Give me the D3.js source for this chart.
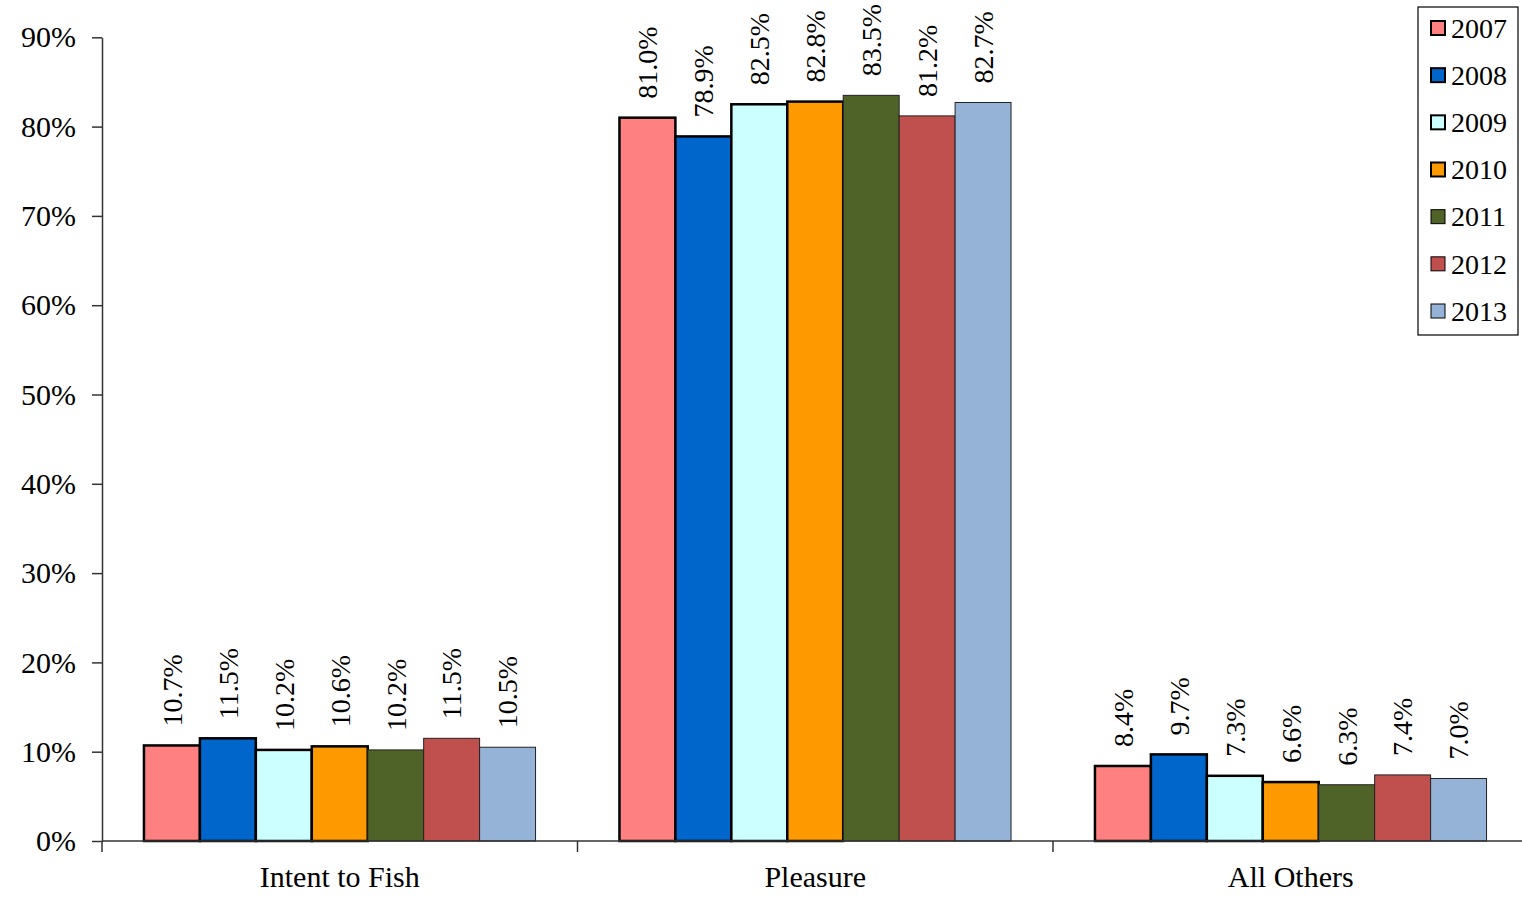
<!DOCTYPE html>
<html>
<head>
<meta charset="utf-8">
<script src="https://cdn.jsdelivr.net/npm/d3@7"></script>
<style>
  body { margin: 0; background: #fff; }
  text { font-family: "Liberation Serif", "Times New Roman", serif; fill: #000; }
</style>
</head>
<body>
<svg id="chart" width="1522" height="897"></svg>
<script>
// chart data
var categories = ["Intent to Fish", "Pleasure", "All Others"];
var years = ["2007", "2008", "2009", "2010", "2011", "2012", "2013"];
var values = {
  "2007": [10.7, 81.0, 8.4],
  "2008": [11.5, 78.9, 9.7],
  "2009": [10.2, 82.5, 7.3],
  "2010": [10.6, 82.8, 6.6],
  "2011": [10.2, 83.5, 6.3],
  "2012": [11.5, 81.2, 7.4],
  "2013": [10.5, 82.7, 7.0]
};
var yTicks = [0, 10, 20, 30, 40, 50, 60, 70, 80, 90];

var colors = ["#FF8080", "#0066CC", "#CCFFFF", "#FF9900", "#4F6228", "#C0504D", "#95B3D7"];
// first four series have heavy black outlines, the rest thin ones
var strokeW = [2.5, 2.5, 2.5, 2.5, 1, 1, 1];

var svg = d3.select("#chart");
var plotLeft = 102, plotBottom = 841, plotTop = 37.3;

var x = d3.scaleBand()
    .domain(categories)
    .range([plotLeft, plotLeft + 3 * 475.5])
    .paddingInner(0).paddingOuter(0);

var xi = d3.scaleBand()
    .domain(years)
    .range([0, x.bandwidth()])
    .paddingInner(0).paddingOuter(0.75);

var y = d3.scaleLinear()
    .domain([0, 90])
    .range([plotBottom, plotTop]);

// y axis
var yAxis = svg.append("g")
    .attr("transform", "translate(" + plotLeft + ",0)")
    .call(d3.axisLeft(y).tickValues(yTicks).tickFormat(function(d) { return d + "%"; })
      .tickSize(10).tickPadding(16).tickSizeOuter(0));
yAxis.select(".domain").attr("stroke", "#333").attr("stroke-width", 1.5);
yAxis.selectAll(".tick line").attr("stroke", "#333").attr("stroke-width", 1.5);
yAxis.selectAll(".tick text")
    .style("font-family", '"Liberation Serif", serif')
    .style("font-size", "30px")
    .attr("fill", "#000");

// bars
var groups = svg.append("g").selectAll("g")
    .data(categories)
    .join("g")
    .attr("transform", function(d) { return "translate(" + x(d) + ",0)"; });

years.forEach(function(yr, k) {
  groups.append("rect")
      .attr("x", xi(yr))
      .attr("width", xi.bandwidth())
      .attr("y", function(d, i) { return y(values[yr][i]); })
      .attr("height", function(d, i) { return plotBottom - y(values[yr][i]); })
      .attr("fill", colors[k])
      .attr("stroke", k < 4 ? "#000" : "#222")
      .attr("stroke-width", strokeW[k]);

  groups.append("text")
      .attr("transform", function(d, i) {
        return "translate(" + (xi(yr) + xi.bandwidth() / 2) + "," + (y(values[yr][i]) - 19) + ") rotate(-90)";
      })
      .attr("dy", "0.35em")
      .style("font-size", "28px")
      .text(function(d, i) { return values[yr][i].toFixed(1) + "%"; });
});

// x axis
var xAxis = svg.append("g")
    .attr("transform", "translate(0," + plotBottom + ")");
xAxis.append("line")
    .attr("x1", plotLeft).attr("x2", 1522)
    .attr("stroke", "#333").attr("stroke-width", 1.5);
xAxis.selectAll("line.tick")
    .data(categories)
    .join("line")
    .attr("class", "tick")
    .attr("x1", function(d) { return x(d); })
    .attr("x2", function(d) { return x(d); })
    .attr("y1", 0).attr("y2", 11)
    .attr("stroke", "#333").attr("stroke-width", 1.5);
xAxis.selectAll("text")
    .data(categories)
    .join("text")
    .attr("x", function(d) { return x(d) + x.bandwidth() / 2; })
    .attr("y", 46)
    .attr("text-anchor", "middle")
    .style("font-size", "30px")
    .text(function(d) { return d; });

// legend
var legend = svg.append("g");
legend.append("rect")
    .attr("x", 1418).attr("y", 7)
    .attr("width", 100).attr("height", 328)
    .attr("fill", "#fff").attr("stroke", "#000").attr("stroke-width", 1.2);

var ly = d3.scalePoint().domain(years).range([28, 311]);
var items = legend.selectAll("g.item")
    .data(years)
    .join("g")
    .attr("class", "item")
    .attr("transform", function(d) { return "translate(1431," + ly(d) + ")"; });
items.append("rect")
    .attr("x", 0).attr("y", -7)
    .attr("width", 14).attr("height", 14)
    .attr("fill", function(d, i) { return colors[i]; })
    .attr("stroke", "#000")
    .attr("stroke-width", function(d, i) { return i < 4 ? 2 : 1; });
items.append("text")
    .attr("x", 20)
    .attr("dy", "0.35em")
    .style("font-size", "28px")
    .text(function(d) { return d; });
</script>
</body>
</html>
